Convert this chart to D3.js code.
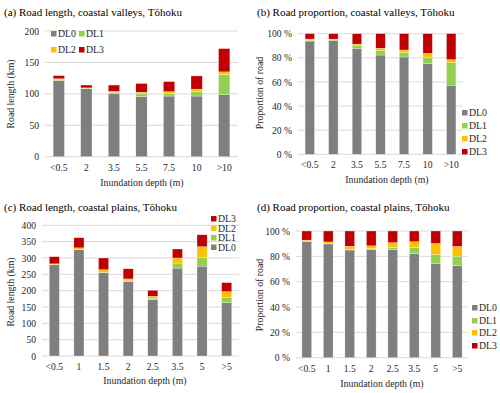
<!DOCTYPE html>
<html>
<head>
<meta charset="utf-8">
<script src="https://cdn.jsdelivr.net/npm/d3@7"></script>
<style>
  body { margin: 0; background: #fff; }
</style>
</head>
<body>
<svg id="chart" width="500" height="393"></svg>
<script>
// categories
const depthValleys = ["<0.5", "2", "3.5", "5.5", "7.5", "10", ">10"];
const depthPlains = ["<0.5", "1", "1.5", "2", "2.5", "3.5", "5", ">5"];
const levels = ["DL0", "DL1", "DL2", "DL3"];
const levelColors = ["#7f7f7f", "#92d050", "#ffc000", "#c00000"];

// (a) road length (km), coastal valleys
const valleyLenDL0 = [121, 108.5, 100, 95.5, 96.5, 96.5, 98.5];
const valleyLenDL1 = [1.5, 0.5, 2.5, 4.5, 4.5, 7, 32];
const valleyLenDL2 = [1.5, 0.5, 1.5, 2.5, 2.5, 4, 4.5];
const valleyLenDL3 = [5, 4.5, 10, 14, 16, 21, 37];

// (b) road proportion (%), coastal valleys
const valleyPctDL0 = [93.9, 94.5, 87.8, 82.3, 80.7, 75.1, 57.3];
const valleyPctDL1 = [0.6, 0.5, 2.2, 3.7, 3.6, 5.3, 18.7];
const valleyPctDL2 = [1.1, 0.5, 1.4, 2.0, 2.2, 3.3, 2.5];
const valleyPctDL3 = [4.4, 4.5, 8.6, 12.0, 13.5, 16.3, 21.5];

// (c) road length (km), coastal plains
const plainLenDL0 = [279, 325, 255, 228, 173, 269, 275, 163];
const plainLenDL1 = [1, 1.5, 1, 2, 4, 15.5, 27, 17];
const plainLenDL2 = [2, 4.5, 8, 6, 6, 15.5, 32.5, 17];
const plainLenDL3 = [22, 31, 36, 31, 18, 27.5, 36.5, 27.5];

// (d) road proportion (%), coastal plains
const plainPctDL0 = [91.8, 89.8, 85, 85.4, 85.5, 82.1, 74.1, 72.6];
const plainPctDL1 = [0.3, 0.4, 0.3, 0.7, 1.6, 4.7, 7.3, 7.6];
const plainPctDL2 = [0.7, 1.2, 2.7, 2.2, 3.7, 4.7, 8.8, 7.6];
const plainPctDL3 = [7.2, 8.6, 12, 11.7, 9.2, 8.5, 9.8, 12.2];

const lengthTicksA = [0, 50, 100, 150, 200];
const lengthTicksC = [0, 50, 100, 150, 200, 250, 300, 350, 400];
const pctTicks = [0, 20, 40, 60, 80, 100];

const serif = "'Liberation Serif', 'DejaVu Serif', serif";

function makeRows(cats, s0, s1, s2, s3) {
    return cats.map((c, i) => ({ depth: c, DL0: s0[i], DL1: s1[i], DL2: s2[i], DL3: s3[i] }));
}

let svg = d3.select("#chart");
let color = d3.scaleOrdinal().domain(levels).range(levelColors);

function label(sel, size) {
    return sel.style("font-family", serif).style("font-size", size + "px").style("fill", "#262626");
}

function drawPanel(p) {
    let g = svg.append("g");

    label(g.append("text"), 11)
        .attr("x", p.titleX).attr("y", p.titleY)
        .style("fill", "#000")
        .text(p.title);

    let x = d3.scaleBand().domain(p.cats).range(p.xRange).paddingInner(p.pad).paddingOuter(p.pad / 2);
    let y = d3.scaleLinear().domain([0, p.yMax]).range(p.yRange);

    // gridlines
    g.selectAll(".grid")
        .data(p.ticks)
        .enter().append("line")
        .attr("x1", p.xRange[0]).attr("x2", p.xRange[1])
        .attr("y1", d => y(d)).attr("y2", d => y(d))
        .attr("stroke", "#d9d9d9").attr("stroke-width", 1);

    let yAxis = d3.axisLeft(y).tickValues(p.ticks).tickSize(0).tickPadding(6).tickFormat(p.fmt);
    let ya = g.append("g").attr("transform", `translate(${p.xRange[0]},0)`).call(yAxis);
    ya.select(".domain").remove();
    label(ya.selectAll("text"), 9.6);

    let xAxis = d3.axisBottom(x).tickSize(0).tickPadding(7);
    let xa = g.append("g").attr("transform", `translate(0,${p.yRange[0]})`).call(xAxis);
    xa.select(".domain").remove();
    label(xa.selectAll("text"), 9.6);

    let stacked = d3.stack().keys(levels)(p.rows);
    g.selectAll(".layer")
        .data(stacked)
        .enter().append("g")
        .attr("fill", d => color(d.key))
        .selectAll("rect")
        .data(d => d)
        .enter().append("rect")
        .attr("x", d => x(d.data.depth))
        .attr("width", x.bandwidth())
        .attr("y", d => y(d[1]))
        .attr("height", d => y(d[0]) - y(d[1]))
        .attr("stroke", "#fff").attr("stroke-width", 0.4).attr("stroke-opacity", 0.7);

    label(g.append("text"), 9.8)
        .attr("x", p.xTitleX).attr("y", p.xTitleY)
        .attr("text-anchor", "middle")
        .text("Inundation depth (m)");

    label(g.append("text"), 9.8)
        .attr("transform", `translate(${p.yTitleX},${p.yTitleY}) rotate(-90)`)
        .attr("text-anchor", "middle")
        .text(p.yLabel);

    // legend
    let leg = g.selectAll(".leg")
        .data(p.legend.items)
        .enter().append("g")
        .attr("transform", (d, i) => `translate(${p.legend.pos[i][0]},${p.legend.pos[i][1]})`);
    leg.append("rect")
        .attr("x", 0).attr("y", -3).attr("width", 5.5).attr("height", 5.5)
        .attr("fill", d => color(d));
    label(leg.append("text"), 9.8)
        .attr("x", 7).attr("y", 0).attr("dy", "0.32em")
        .text(d => d);
}

let pctFmt = d => d + " %";

drawPanel({
    title: "(a) Road length, coastal valleys, Tōhoku", titleX: 4, titleY: 16,
    cats: depthValleys, rows: makeRows(depthValleys, valleyLenDL0, valleyLenDL1, valleyLenDL2, valleyLenDL3),
    xRange: [45, 238], yRange: [156.7, 31], yMax: 200, ticks: lengthTicksA, fmt: d => d, pad: 0.59,
    yLabel: "Road length (km)", yTitleX: 14, yTitleY: 94, xTitleX: 142, xTitleY: 186,
    legend: { items: ["DL0", "DL1", "DL2", "DL3"], pos: [[51, 34], [79, 34], [51, 50], [79, 50]] }
});

drawPanel({
    title: "(b) Road proportion, coastal valleys, Tōhoku", titleX: 257, titleY: 16,
    cats: depthValleys, rows: makeRows(depthValleys, valleyPctDL0, valleyPctDL1, valleyPctDL2, valleyPctDL3),
    xRange: [298, 463], yRange: [154.3, 33.7], yMax: 100, ticks: pctTicks, fmt: pctFmt, pad: 0.6,
    yLabel: "Proportion of road", yTitleX: 263, yTitleY: 93, xTitleX: 387, xTitleY: 183,
    legend: { items: ["DL0", "DL1", "DL2", "DL3"], pos: [[462, 113], [462, 126], [462, 139], [462, 152]] }
});

drawPanel({
    title: "(c) Road length, coastal plains, Tōhoku", titleX: 4, titleY: 211,
    cats: depthPlains, rows: makeRows(depthPlains, plainLenDL0, plainLenDL1, plainLenDL2, plainLenDL3),
    xRange: [42, 239], yRange: [356, 225.3], yMax: 400, ticks: lengthTicksC, fmt: d => d, pad: 0.59,
    yLabel: "Road length (km)", yTitleX: 14, yTitleY: 292, xTitleX: 145, xTitleY: 384,
    legend: { items: ["DL3", "DL2", "DL1", "DL0"], pos: [[211, 219], [211, 228.5], [211, 238], [211, 247.5]] }
});

drawPanel({
    title: "(d) Road proportion, coastal plains, Tōhoku", titleX: 257, titleY: 211,
    cats: depthPlains, rows: makeRows(depthPlains, plainPctDL0, plainPctDL1, plainPctDL2, plainPctDL3),
    xRange: [296, 468], yRange: [357.7, 231], yMax: 100, ticks: pctTicks, fmt: pctFmt, pad: 0.55,
    yLabel: "Proportion of road", yTitleX: 263, yTitleY: 295, xTitleX: 382, xTitleY: 387,
    legend: { items: ["DL0", "DL1", "DL2", "DL3"], pos: [[472, 308], [472, 321], [472, 333], [472, 346]] }
});
</script>
</body>
</html>
